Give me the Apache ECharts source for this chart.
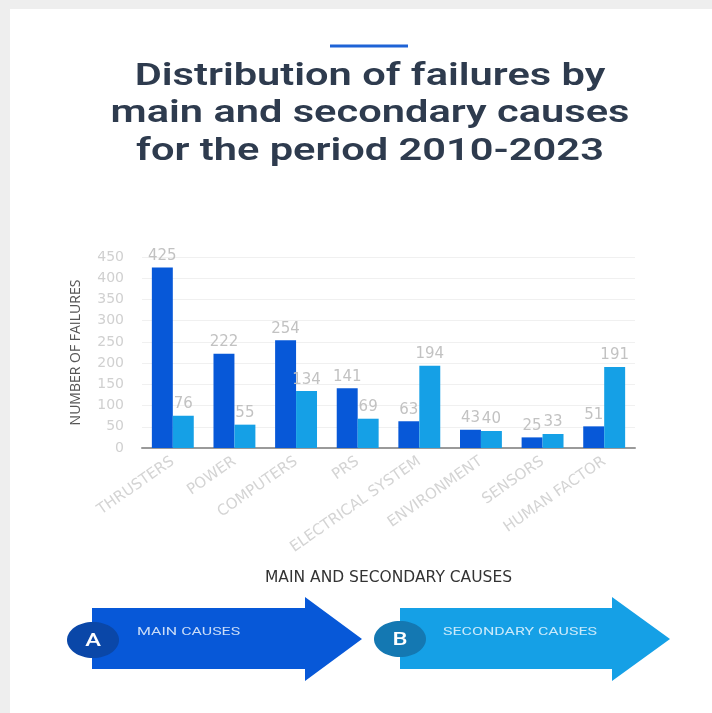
<!DOCTYPE html>
<html>
<head>
<meta charset="utf-8">
<script src="https://cdn.jsdelivr.net/npm/echarts@6/dist/echarts.min.js"></script>
<style>
html,body{margin:0;padding:0;background:#eeeeee;}
#chart{width:712px;height:713px;}
</style>
</head>
<body>
<div id="chart"></div>
<script>
const categories = ['THRUSTERS','POWER','COMPUTERS','PRS','ELECTRICAL SYSTEM','ENVIRONMENT','SENSORS','HUMAN FACTOR'];
const mainCauses = [425, 222, 254, 141, 63, 43, 25, 51];
const secondaryCauses = [76, 55, 134, 69, 194, 40, 33, 191];
const yTicks = [0, 50, 100, 150, 200, 250, 300, 350, 400, 450];
const titleLines = ['Distribution of failures by', 'main and secondary causes', 'for the period 2010-2023'];

const MAIN = '#0758d8';
const SEC = '#15a0e6';

const chart = echarts.init(document.getElementById('chart'), null, {renderer: 'canvas'});

function arrow(x0, xb, xt, color) {
  return {
    type: 'polygon',
    shape: {points: [[x0,608],[xb,608],[xb,597],[xt,639],[xb,681],[xb,669],[x0,669]]},
    style: {fill: color}
  };
}

const labelStyle = {show: true, position: 'top', color: '#c2c2c2', fontSize: 15, distance: 4, fontFamily: 'DejaVu Sans'};

const option = {
  backgroundColor: '#eeeeee',
  animation: false,
  textStyle: {fontFamily: 'Open Sans'},
  grid: {left: 142, right: 77, top: 257, bottom: 265, containLabel: false},
  xAxis: {
    type: 'category',
    data: categories,
    name: 'MAIN AND SECONDARY CAUSES',
    nameLocation: 'middle',
    nameGap: 122,
    nameTextStyle: {color: '#333', fontSize: 15.5, fontFamily: 'DejaVu Sans'},
    axisLine: {lineStyle: {color: '#9a9a9a', width: 2}},
    axisTick: {show: false},
    axisLabel: {rotate: 35, color: '#d4d4d4', fontSize: 15, margin: 12, interval: 0, fontFamily: 'DejaVu Sans'}
  },
  yAxis: {
    type: 'value',
    min: yTicks[0],
    max: yTicks[yTicks.length - 1],
    interval: 50,
    name: 'NUMBER OF FAILURES',
    nameLocation: 'middle',
    nameGap: 59,
    nameRotate: 90,
    nameTextStyle: {color: '#555', fontSize: 14, fontFamily: 'Open Sans'},
    axisLine: {show: false},
    axisTick: {show: false},
    axisLabel: {color: '#d0d0d0', fontSize: 14, margin: 18, fontFamily: 'DejaVu Sans'},
    splitLine: {lineStyle: {color: '#f0f0f0', width: 1}}
  },
  series: [
    {
      name: 'Main causes', type: 'bar', data: mainCauses,
      barGap: '0%', barCategoryGap: '32%',
      itemStyle: {color: MAIN},
      label: labelStyle
    },
    {
      name: 'Secondary causes', type: 'bar', data: secondaryCauses,
      barGap: '0%', barCategoryGap: '32%',
      itemStyle: {color: SEC},
      label: labelStyle
    }
  ],
  graphic: [
    {type: 'rect', z: -10, shape: {x: 10, y: 9, width: 702, height: 704}, style: {fill: '#ffffff'}},
    {type: 'rect', shape: {x: 330, y: 44.5, width: 78, height: 3}, style: {fill: '#1e63d6'}},
    {type: 'text', x: 370, y: 58, scaleX: 1.3, style: {
      text: titleLines.join('\n'), textAlign: 'center', textVerticalAlign: 'top',
      font: '600 32px Roboto', lineHeight: 37.5, fill: '#2e3b4e'}},
    arrow(92, 305, 362, '#0758d8'),
    arrow(400, 612, 670, '#15a0e6'),
    {type: 'ellipse', shape: {cx: 93, cy: 640, rx: 26, ry: 18}, style: {fill: '#0a47a8'}},
    {type: 'ellipse', shape: {cx: 400, cy: 639, rx: 26, ry: 18}, style: {fill: '#1478b2'}},
    {type: 'text', x: 93, y: 641, scaleX: 1.25, style: {text: 'A', textAlign: 'center', textVerticalAlign: 'middle', font: '500 19px Roboto', fill: '#ffffff'}},
    {type: 'text', x: 400, y: 640, scaleX: 1.25, style: {text: 'B', textAlign: 'center', textVerticalAlign: 'middle', font: '500 19px Roboto', fill: '#ffffff'}},
    {type: 'text', x: 137, y: 632, scaleX: 1.45, style: {text: 'MAIN CAUSES', textVerticalAlign: 'middle', font: '11px Roboto', fill: '#c9dcf7'}},
    {type: 'text', x: 443, y: 632, scaleX: 1.45, style: {text: 'SECONDARY CAUSES', textVerticalAlign: 'middle', font: '11px Roboto', fill: '#c9e9fa'}}
  ]
};
chart.setOption(option);
</script>
</body>
</html>
